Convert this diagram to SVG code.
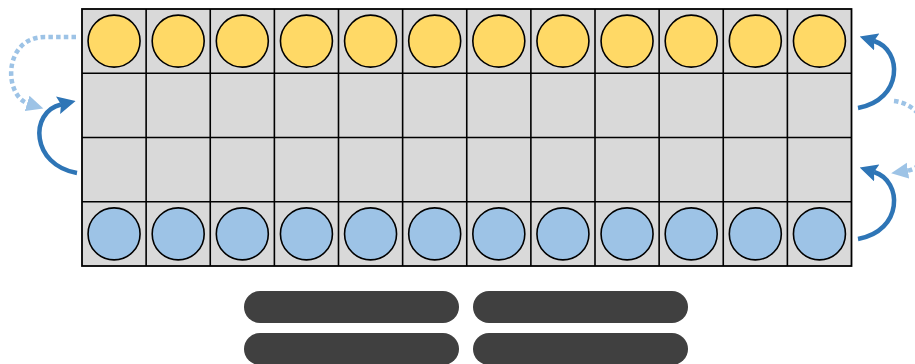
<svg xmlns="http://www.w3.org/2000/svg" width="915" height="364" viewBox="0 0 915 364">
<defs>
<style>
.board{fill:#d9d9d9;stroke:#000;stroke-width:1.8}
.gl{stroke:#000;stroke-width:1.6;fill:none}
.y{fill:#ffd966;stroke:#000;stroke-width:1.6}
.b{fill:#9dc3e6;stroke:#000;stroke-width:1.6}
.solid{fill:none;stroke:#2e75b6;stroke-width:4.5}
.dot{fill:none;stroke:#9dc3e6;stroke-width:4.5;stroke-dasharray:4.5 3.2}
.bar{fill:#404040}
</style>
<marker id="ah" markerUnits="userSpaceOnUse" viewBox="0 0 18 18" refX="3" refY="9" markerWidth="18" markerHeight="18" orient="auto">
<path d="M0,0 L18,9 L0,18 L3,9 z" fill="#2e75b6"/>
</marker>
<marker id="ahl" markerUnits="userSpaceOnUse" viewBox="0 0 18 18" refX="2" refY="9" markerWidth="18" markerHeight="18" orient="auto">
<path d="M0,1 L17,9 L0,17 z" fill="#9dc3e6"/>
</marker>
</defs>
<g id="board">
<rect class="board" x="82" y="9" width="769.5" height="257"/>
<path class="gl" d="M146.13 9V266M210.25 9V266M274.38 9V266M338.5 9V266M402.63 9V266M466.75 9V266M530.88 9V266M595 9V266M659.13 9V266M723.25 9V266M787.38 9V266M82 73.25H851.5M82 137.5H851.5M82 201.75H851.5"/>
</g>
<g id="yellow-pieces">
<g id="y1"><circle class="y" cx="114.06" cy="41.1" r="26"/></g>
<g id="y2"><circle class="y" cx="178.19" cy="41.1" r="26"/></g>
<g id="y3"><circle class="y" cx="242.31" cy="41.1" r="26"/></g>
<g id="y4"><circle class="y" cx="306.44" cy="41.1" r="26"/></g>
<g id="y5"><circle class="y" cx="370.56" cy="41.1" r="26"/></g>
<g id="y6"><circle class="y" cx="434.69" cy="41.1" r="26"/></g>
<g id="y7"><circle class="y" cx="498.81" cy="41.1" r="26"/></g>
<g id="y8"><circle class="y" cx="562.94" cy="41.1" r="26"/></g>
<g id="y9"><circle class="y" cx="627.06" cy="41.1" r="26"/></g>
<g id="y10"><circle class="y" cx="691.19" cy="41.1" r="26"/></g>
<g id="y11"><circle class="y" cx="755.31" cy="41.1" r="26"/></g>
<g id="y12"><circle class="y" cx="819.44" cy="41.1" r="26"/></g>
</g>
<g id="blue-pieces">
<g id="b1"><circle class="b" cx="114.06" cy="233.9" r="26"/></g>
<g id="b2"><circle class="b" cx="178.19" cy="233.9" r="26"/></g>
<g id="b3"><circle class="b" cx="242.31" cy="233.9" r="26"/></g>
<g id="b4"><circle class="b" cx="306.44" cy="233.9" r="26"/></g>
<g id="b5"><circle class="b" cx="370.56" cy="233.9" r="26"/></g>
<g id="b6"><circle class="b" cx="434.69" cy="233.9" r="26"/></g>
<g id="b7"><circle class="b" cx="498.81" cy="233.9" r="26"/></g>
<g id="b8"><circle class="b" cx="562.94" cy="233.9" r="26"/></g>
<g id="b9"><circle class="b" cx="627.06" cy="233.9" r="26"/></g>
<g id="b10"><circle class="b" cx="691.19" cy="233.9" r="26"/></g>
<g id="b11"><circle class="b" cx="755.31" cy="233.9" r="26"/></g>
<g id="b12"><circle class="b" cx="819.44" cy="233.9" r="26"/></g>
</g>
<g id="connectors">
<path class="dot" d="M76 37 H45 C3 37, 3 96, 29 104" marker-end="url(#ahl)"/>
<path class="solid" d="M77 173 C31 165, 29 112, 61 104.5" marker-end="url(#ah)"/>
<path class="solid" d="M858 108 C903 100, 903 50, 874 41" marker-end="url(#ah)"/>
<path class="solid" d="M858 239 C903 231, 903 181, 874 172" marker-end="url(#ah)"/>
<path class="dot" d="M894 101 C935 106, 940 166, 906 171" marker-end="url(#ahl)"/>
</g>
<g id="bars">
<rect class="bar" x="244" y="291" width="215" height="32" rx="16"/>
<rect class="bar" x="473" y="291" width="215" height="32" rx="16"/>
<rect class="bar" x="244" y="333" width="215" height="32" rx="16"/>
<rect class="bar" x="473" y="333" width="215" height="32" rx="16"/>
</g>
</svg>
